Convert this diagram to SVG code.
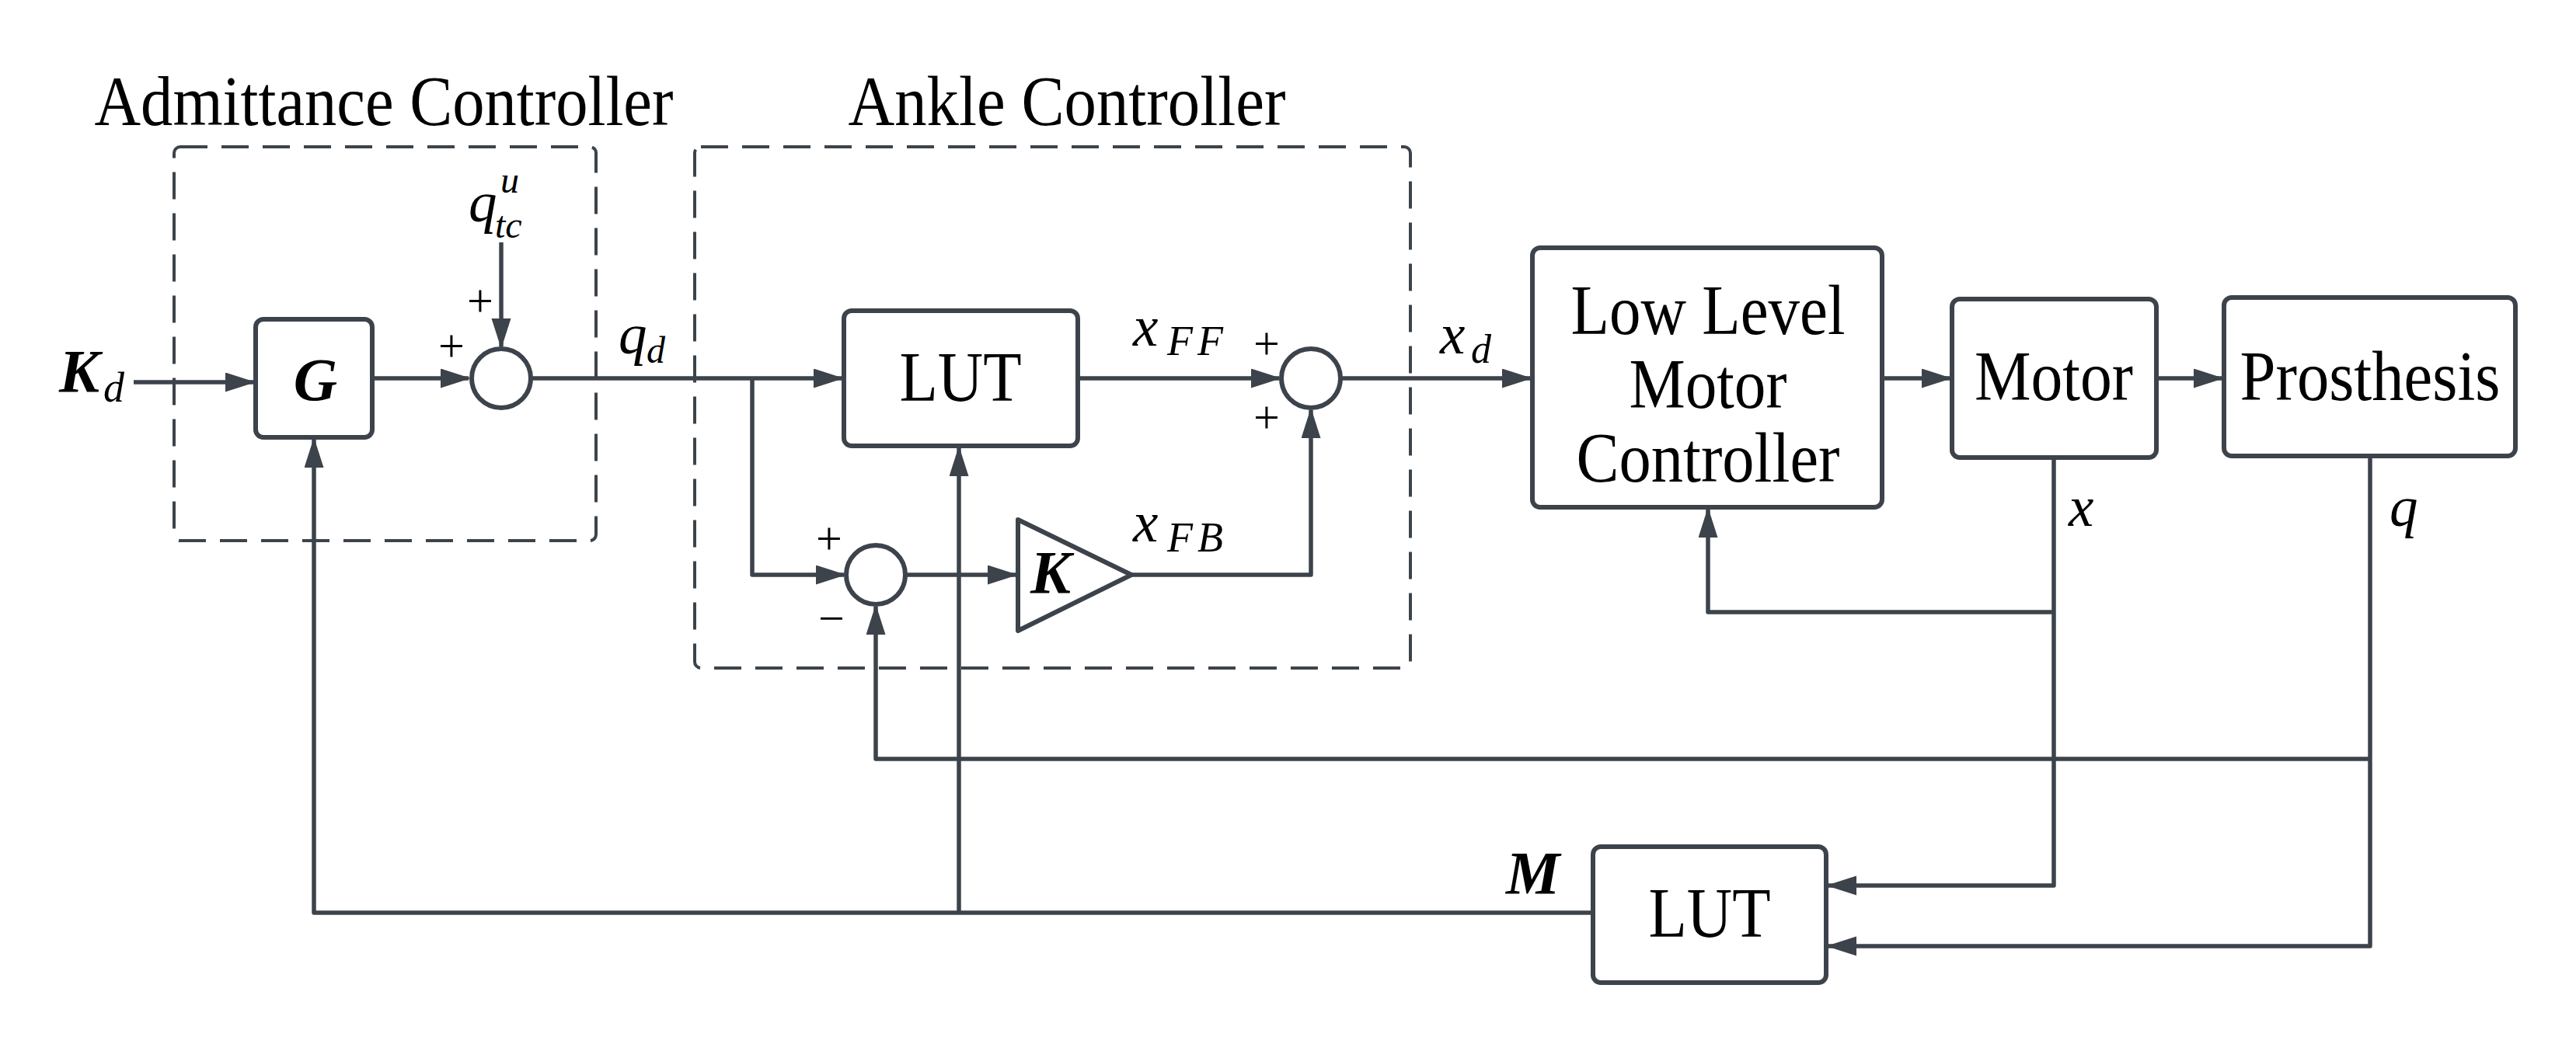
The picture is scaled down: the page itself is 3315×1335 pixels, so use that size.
<svg xmlns="http://www.w3.org/2000/svg" width="3315" height="1335" viewBox="0 0 3315 1335">
<style>
.box{fill:#fff;stroke:#3d434b;stroke-width:6}
.dash{fill:none;stroke:#3d434b;stroke-width:4;stroke-dasharray:35 18}
.sum{fill:#fff;stroke:#3d434b;stroke-width:6}
.ln{fill:none;stroke:#3d434b;stroke-width:5.5;stroke-linejoin:round}
.arr{marker-end:url(#ah)}
text{font-family:"Liberation Serif","Times New Roman",serif;fill:#000}
.t{font-size:90px;text-anchor:middle}
.m{font-style:italic;font-size:73px}
.mb{font-style:italic;font-weight:bold;font-size:78px}
.s{font-style:italic;font-size:54px}
.pm{font-size:60px;text-anchor:middle}
</style>
<defs>
<marker id="ah" markerUnits="userSpaceOnUse" markerWidth="42" markerHeight="28" refX="36" refY="12.5" orient="auto">
<path d="M0,0 L39,12.5 L0,25 z" fill="#3d434b"/>
</marker>
</defs>
<rect width="3315" height="1335" fill="#fff"/>

<g id="admittance-controller">
<rect class="dash" x="224" y="189" width="543" height="507" rx="8"/>
<text class="t" x="494" y="161" textLength="745" lengthAdjust="spacingAndGlyphs">Admittance Controller</text>
</g>
<g id="ankle-controller">
<rect class="dash" x="894" y="189" width="921" height="671" rx="8"/>
<text class="t" x="1373" y="161" textLength="563" lengthAdjust="spacingAndGlyphs">Ankle Controller</text>
</g>

<g id="connectors">
<path class="ln arr" d="M172,492 H326"/>
<path class="ln arr" d="M479,487 H603"/>
<path class="ln arr" d="M645,312 V446"/>
<path class="ln arr" d="M683,487 H1083"/>
<path class="ln arr" d="M968,487 V740 H1086"/>
<path class="ln arr" d="M1165,740 H1307"/>
<path class="ln arr" d="M1387,487 H1646"/>
<path class="ln arr" d="M1456,740 H1687 V528"/>
<path class="ln arr" d="M1725,487 H1969"/>
<path class="ln arr" d="M2422,487 H2509"/>
<path class="ln arr" d="M2775,487 H2859"/>
<path class="ln arr" d="M2643,589 V1140 H2353"/>
<path class="ln arr" d="M2643,788 H2198 V656"/>
<path class="ln arr" d="M3050,587 V1218 H2353"/>
<path class="ln arr" d="M3050,977 H1127 V781"/>
<path class="ln arr" d="M2050,1175 H404 V566"/>
<path class="ln arr" d="M1234,1175 V577"/>
</g>

<g id="G">
<rect class="box" x="329" y="411" width="150" height="152" rx="10"/>
<text class="mb" x="406" y="515" text-anchor="middle" font-size="80">G</text>
</g>
<g id="sum1">
<circle class="sum" cx="645" cy="487" r="38"/>
</g>
<g id="LUT1">
<rect class="box" x="1086" y="400" width="301" height="174" rx="10"/>
<text class="t" x="1236" y="516" font-size="88" textLength="157" lengthAdjust="spacingAndGlyphs">LUT</text>
</g>
<g id="sum2">
<circle class="sum" cx="1127" cy="740" r="38"/>
</g>
<g id="K-gain">
<path class="box" d="M1310,669 L1456,740 L1310,812 Z" stroke-linejoin="round"/>
<text class="mb" x="1326" y="763">K</text>
</g>
<g id="sum3">
<circle class="sum" cx="1687" cy="487" r="38"/>
</g>
<g id="LLMC">
<rect class="box" x="1972" y="319" width="450" height="334" rx="10"/>
<text class="t" x="2198" y="430" textLength="353" lengthAdjust="spacingAndGlyphs">Low Level</text>
<text class="t" x="2198" y="525" textLength="203" lengthAdjust="spacingAndGlyphs">Motor</text>
<text class="t" x="2198" y="620" textLength="339" lengthAdjust="spacingAndGlyphs">Controller</text>
</g>
<g id="Motor">
<rect class="box" x="2512" y="385" width="263" height="204" rx="10"/>
<text class="t" x="2643" y="515" textLength="204" lengthAdjust="spacingAndGlyphs">Motor</text>
</g>
<g id="Prosthesis">
<rect class="box" x="2862" y="383" width="375" height="204" rx="10"/>
<text class="t" x="3050" y="515" textLength="335" lengthAdjust="spacingAndGlyphs">Prosthesis</text>
</g>
<g id="LUT2">
<rect class="box" x="2050" y="1090" width="300" height="175" rx="10"/>
<text class="t" x="2200" y="1206" font-size="88" textLength="157" lengthAdjust="spacingAndGlyphs">LUT</text>
</g>

<g id="labels">
<text class="mb" x="76" y="504">K<tspan class="s" font-weight="normal" x="133" y="517">d</tspan></text>
<text class="m" x="603" y="285">q<tspan font-size="48" x="644" y="248">u</tspan><tspan font-size="48" x="637" y="306">tc</tspan></text>
<text class="m" x="796" y="455" font-size="68">q<tspan font-size="48" x="832" y="467">d</tspan></text>
<text class="m" x="1458" y="445">x<tspan font-size="54" x="1502" y="457" letter-spacing="6">FF</tspan></text>
<text class="m" x="1458" y="697">x<tspan font-size="54" x="1502" y="710" letter-spacing="6">FB</tspan></text>
<text class="m" x="1853" y="455">x<tspan font-size="52" x="1893" y="467">d</tspan></text>
<text class="m" x="2662" y="677">x</text>
<text class="m" x="3075" y="677">q</text>
<text class="mb" x="1938" y="1150" font-size="82">M</text>
<text class="pm" x="618" y="407">+</text>
<text class="pm" x="581" y="465">+</text>
<text class="pm" x="1067" y="713">+</text>
<text class="pm" x="1070" y="816">−</text>
<text class="pm" x="1630" y="462">+</text>
<text class="pm" x="1630" y="557">+</text>
</g>
</svg>
